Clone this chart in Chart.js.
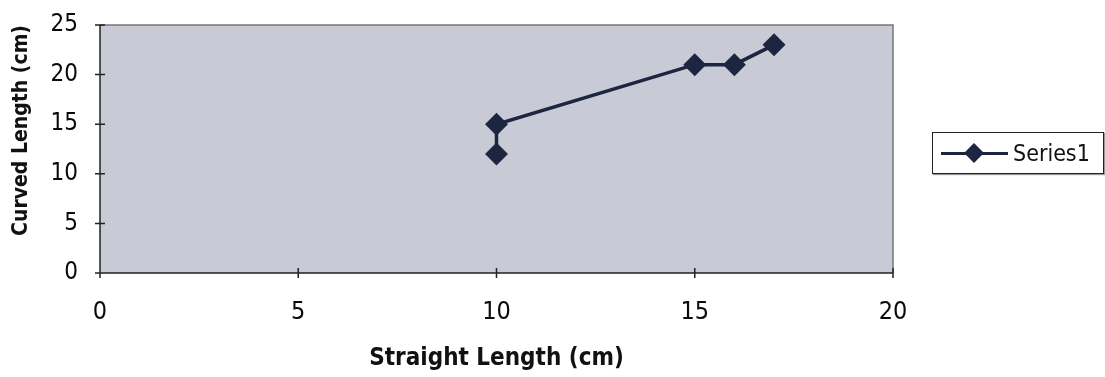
<!DOCTYPE html>
<html>
<head>
<meta charset="utf-8">
<script src="https://cdn.jsdelivr.net/npm/chart.js@4"></script>
<style>
  body { margin: 0; background: #fff; }
  #wrap { position: relative; width: 1105px; height: 377px; }
  #legend {
    position: absolute; left: 932px; top: 132px; width: 172px; height: 42px;
    border: 1px solid #222; box-shadow: 1px 1px 1px #999; background: #fff;
    font: 23px "DejaVu Sans Condensed", "DejaVu Sans", sans-serif; color: #111;
    display: flex; align-items: center; box-sizing: border-box; padding-left: 8px;
  }
  #legend .line { position: relative; width: 67px; height: 3px; background: #1e2540; margin-right: 5px; }
  #legend .mark { position: absolute; left: 26px; top: -6px; width: 14px; height: 14px; background: #1e2540; transform: rotate(45deg); }
</style>
</head>
<body>
<div id="wrap">
  <canvas id="lengthChart" width="1105" height="377"></canvas>
  <div id="legend"><span class="line"><span class="mark"></span></span><span id="legendText"></span></div>
</div>
<script>
// data
const seriesName = 'Series1';
const straightLength = [10, 10, 15, 16, 17];
const curvedLength = [12, 15, 21, 21, 23];
const xTicks = [0, 5, 10, 15, 20];
const yTicks = [0, 5, 10, 15, 20, 25];

const plotColor = '#1e2540';
const areaColor = 'rgb(200, 203, 213)';
const fontName = '"DejaVu Sans Condensed", "DejaVu Sans", sans-serif';

// fill the plot area and draw its frame, with cross-style tick marks
const plotFrame = {
    id: 'plotFrame',
    beforeDraw(chart) {
        const { ctx, chartArea: a } = chart;
        ctx.save();
        ctx.fillStyle = areaColor;
        ctx.fillRect(a.left, a.top, a.right - a.left, a.bottom - a.top);
        ctx.strokeStyle = '#777';
        ctx.lineWidth = 1.5;
        ctx.beginPath();
        ctx.moveTo(a.left, a.top);
        ctx.lineTo(a.right, a.top);
        ctx.lineTo(a.right, a.bottom);
        ctx.stroke();
        ctx.restore();
    },
    afterDatasetsDraw(chart) {
        const { ctx, chartArea: a, scales } = chart;
        ctx.save();
        ctx.strokeStyle = '#222';
        ctx.lineWidth = 1.5;
        ctx.beginPath();
        ctx.moveTo(a.left, a.top);
        ctx.lineTo(a.left, a.bottom);
        ctx.lineTo(a.right, a.bottom);
        yTicks.forEach(v => {
            const y = scales.y.getPixelForValue(v);
            ctx.moveTo(a.left - 5, y);
            ctx.lineTo(a.left + 5, y);
        });
        xTicks.forEach(v => {
            const x = scales.x.getPixelForValue(v);
            ctx.moveTo(x, a.bottom - 5);
            ctx.lineTo(x, a.bottom + 5);
        });
        ctx.stroke();
        ctx.restore();
    }
};

function initLengthChart() {
    const ctx = document.getElementById('lengthChart').getContext('2d');
    const points = straightLength.map((x, i) => ({ x: x, y: curvedLength[i] }));
    new Chart(ctx, {
        type: 'scatter',
        data: {
            datasets: [{
                label: seriesName,
                data: points,
                showLine: true,
                borderColor: plotColor,
                borderWidth: 3.5,
                backgroundColor: plotColor,
                pointStyle: 'rectRot',
                pointRadius: 9,
                pointHoverRadius: 9
            }]
        },
        options: {
            responsive: false,
            animation: false,
            layout: { padding: { top: 25, right: 212, left: 0, bottom: 0 } },
            plugins: { legend: { display: false }, tooltip: { enabled: false } },
            scales: {
                x: {
                    type: 'linear', min: 0, max: 20,
                    afterBuildTicks: s => { s.ticks = xTicks.map(v => ({ value: v })); },
                    afterFit: s => { s.height = 104; s.paddingLeft = 0; s.paddingRight = 0; },
                    grid: { display: false, drawTicks: false },
                    border: { display: false },
                    ticks: { color: '#0a0a0a', padding: 24, maxRotation: 0, font: { family: fontName, size: 25 } },
                    title: { display: true, text: 'Straight Length (cm)', color: '#111', padding: { top: 0, bottom: 4 },
                             font: { family: fontName, size: 24, weight: 'bold' } }
                },
                y: {
                    min: 0, max: 25,
                    afterBuildTicks: s => { s.ticks = yTicks.map(v => ({ value: v })); },
                    afterFit: s => { s.width = 100; s.paddingTop = 0; s.paddingBottom = 0; },
                    grid: { display: false, drawTicks: false },
                    border: { display: false },
                    ticks: { color: '#0a0a0a', padding: 22, font: { family: fontName, size: 24 } },
                    title: { display: true, text: 'Curved Length (cm)', color: '#111', align: 'end', padding: { top: 9, bottom: 0 },
                             font: { family: fontName, size: 21, weight: 'bold' } }
                }
            }
        },
        plugins: [plotFrame]
    });
    document.getElementById('legendText').textContent = seriesName;
}

window.onload = function() {
    initLengthChart();
};
</script>
</body>
</html>
